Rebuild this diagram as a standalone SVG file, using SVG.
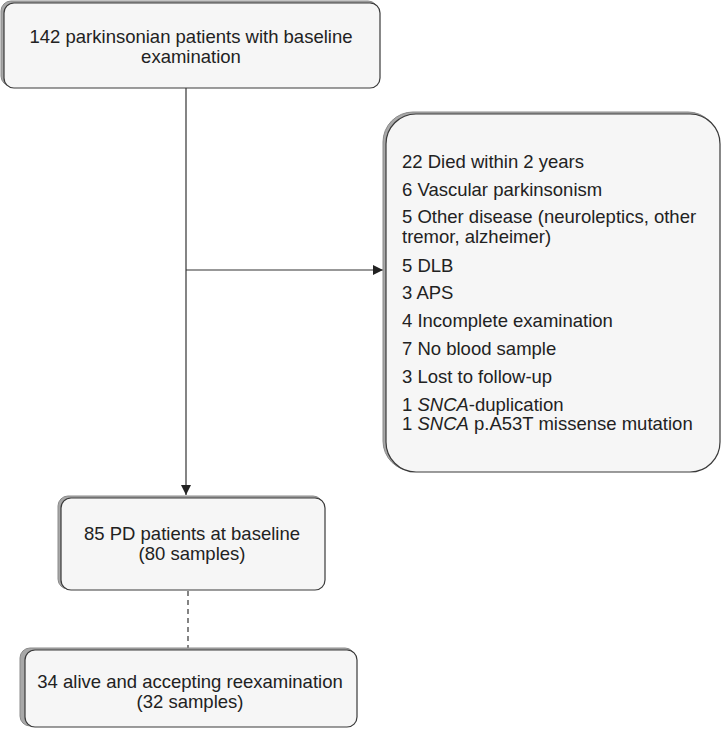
<svg xmlns="http://www.w3.org/2000/svg" width="721" height="729" viewBox="0 0 721 729">
<defs>
<style>
.shadow{fill:#a8a8a8;stroke:#8a8a8a;stroke-width:1}
.box{fill:#f6f6f6;stroke:#3a3a3a;stroke-width:1.2}
.t{font-family:"Liberation Sans",Arial,sans-serif;font-size:18.5px;fill:#222}
.c{text-anchor:middle}
.line{stroke:#333;stroke-width:1.2;fill:none}
</style>
<marker id="arr" viewBox="0 0 10 10" refX="10" refY="5" markerWidth="10" markerHeight="10" markerUnits="userSpaceOnUse" orient="auto">
<path d="M0,0 L10,5 L0,10 z" fill="#222"/>
</marker>
</defs>
<rect width="721" height="729" fill="#fff"/>
<g id="connectors">
<line class="line" x1="186" y1="88" x2="186" y2="495" marker-end="url(#arr)"/>
<line class="line" x1="186" y1="270" x2="383" y2="270" marker-end="url(#arr)"/>
<line class="line" x1="188" y1="591" x2="188" y2="649" stroke-dasharray="5,4"/>
</g>
<g id="node-start">
<rect class="shadow" x="1" y="1" width="377" height="85" rx="10"/>
<rect class="box" x="4" y="3" width="376" height="85" rx="10"/>
<text class="t c" x="191" y="43">142 parkinsonian patients with baseline</text>
<text class="t c" x="191" y="63">examination</text>
</g>
<g id="node-excluded">
<rect class="shadow" x="383" y="112" width="335" height="359" rx="30"/>
<rect class="box" x="386" y="114" width="334" height="358" rx="30"/>
<text class="t" x="402" y="168">22 Died within 2 years</text>
<text class="t" x="402" y="196">6 Vascular parkinsonism</text>
<text class="t" x="402" y="223">5 Other disease (neuroleptics, other</text>
<text class="t" x="402" y="243">tremor, alzheimer)</text>
<text class="t" x="402" y="272">5 DLB</text>
<text class="t" x="402" y="299">3 APS</text>
<text class="t" x="402" y="327">4 Incomplete examination</text>
<text class="t" x="402" y="355">7 No blood sample</text>
<text class="t" x="402" y="383">3 Lost to follow-up</text>
<text class="t" x="402" y="411">1 <tspan font-style="italic">SNCA</tspan>-duplication</text>
<text class="t" x="402" y="430">1 <tspan font-style="italic">SNCA</tspan> p.A53T missense mutation</text>
</g>
<g id="node-pd">
<rect class="shadow" x="58" y="496" width="265" height="93" rx="10"/>
<rect class="box" x="61" y="498" width="264" height="92" rx="10"/>
<text class="t c" x="192" y="540">85 PD patients at baseline</text>
<text class="t c" x="192" y="560">(80 samples)</text>
</g>
<g id="node-followup">
<rect class="shadow" x="20" y="648" width="335" height="78" rx="10"/>
<rect class="box" x="25" y="650" width="332" height="77" rx="10"/>
<text class="t c" x="190" y="688">34 alive and accepting reexamination</text>
<text class="t c" x="190" y="708">(32 samples)</text>
</g>
</svg>
